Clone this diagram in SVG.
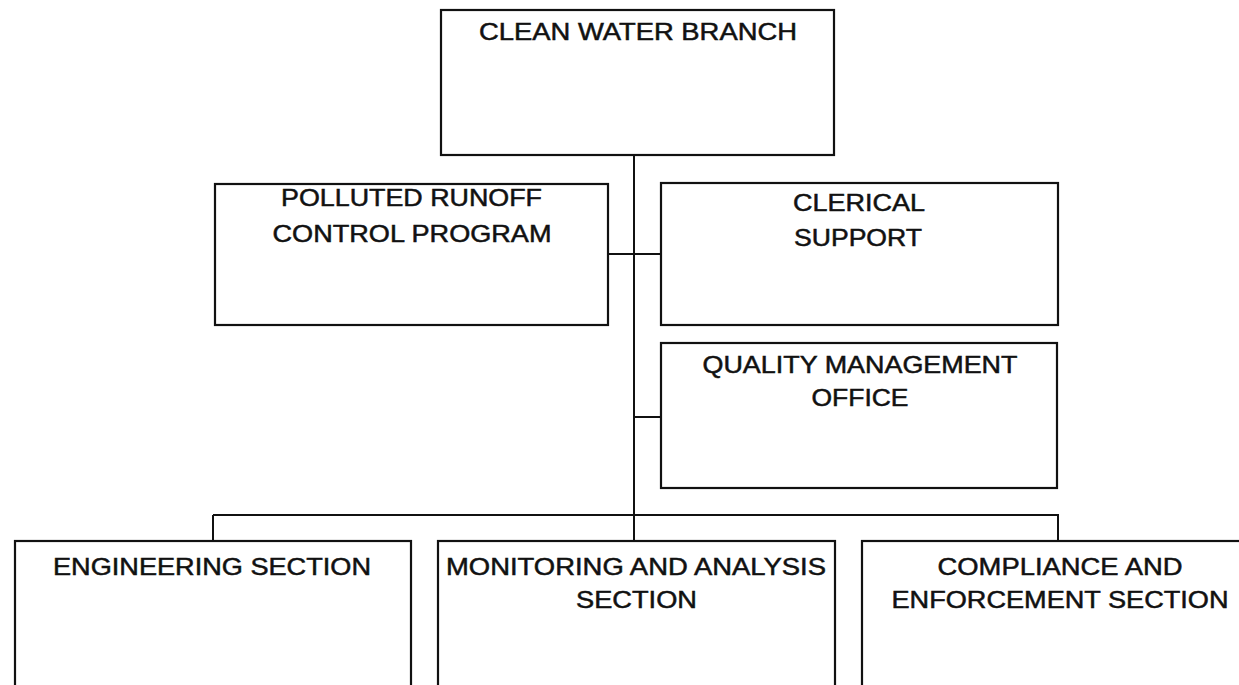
<svg xmlns="http://www.w3.org/2000/svg" width="1239" height="685" viewBox="0 0 1239 685">
<style>
.box{fill:#fff;stroke:#111;stroke-width:2.2}
.t{font-family:"Liberation Sans",Arial,sans-serif;font-size:24px;fill:#111;stroke:#111;stroke-width:0.5;text-anchor:middle}
.c{stroke:#111;stroke-width:2;fill:none}
</style>
<rect width="1239" height="685" fill="#fff"/>
<g id="connectors">
<line class="c" x1="634" y1="155" x2="634" y2="541" stroke-width="1.6"/>
<line class="c" x1="608" y1="254" x2="661" y2="254"/>
<line class="c" x1="634" y1="417" x2="661" y2="417"/>
<line class="c" x1="213" y1="515" x2="1059" y2="515"/>
<line class="c" x1="213" y1="515" x2="213" y2="540"/>
<line class="c" x1="1058" y1="515" x2="1058" y2="540"/>
</g>
<g id="clean-water-branch">
<rect class="box" x="441" y="10" width="393" height="145"/>
<text class="t" x="638" y="40" textLength="318" lengthAdjust="spacingAndGlyphs">CLEAN WATER BRANCH</text>
</g>
<g id="polluted-runoff">
<rect class="box" x="215" y="184" width="393" height="141"/>
<text class="t" x="411.5" y="206" textLength="261" lengthAdjust="spacingAndGlyphs">POLLUTED RUNOFF</text>
<text class="t" x="412" y="242" textLength="279" lengthAdjust="spacingAndGlyphs">CONTROL PROGRAM</text>
</g>
<g id="clerical-support">
<rect class="box" x="661" y="183" width="397" height="142"/>
<text class="t" x="859" y="211" textLength="132" lengthAdjust="spacingAndGlyphs">CLERICAL</text>
<text class="t" x="858" y="246" textLength="128" lengthAdjust="spacingAndGlyphs">SUPPORT</text>
</g>
<g id="quality-management">
<rect class="box" x="661" y="343" width="396" height="145"/>
<text class="t" x="860" y="373" textLength="315" lengthAdjust="spacingAndGlyphs">QUALITY MANAGEMENT</text>
<text class="t" x="860" y="406" textLength="97" lengthAdjust="spacingAndGlyphs">OFFICE</text>
</g>
<g id="engineering">
<rect class="box" x="15" y="541" width="396" height="160"/>
<text class="t" x="212" y="575" textLength="318" lengthAdjust="spacingAndGlyphs">ENGINEERING SECTION</text>
</g>
<g id="monitoring">
<rect class="box" x="438" y="541" width="397" height="160"/>
<text class="t" x="636" y="575" textLength="380" lengthAdjust="spacingAndGlyphs">MONITORING AND ANALYSIS</text>
<text class="t" x="636.5" y="608" textLength="121" lengthAdjust="spacingAndGlyphs">SECTION</text>
</g>
<g id="compliance">
<rect class="box" x="862" y="541" width="400" height="160"/>
<text class="t" x="1060" y="575" textLength="245" lengthAdjust="spacingAndGlyphs">COMPLIANCE AND</text>
<text class="t" x="1060" y="608" textLength="337" lengthAdjust="spacingAndGlyphs">ENFORCEMENT SECTION</text>
</g>
</svg>
